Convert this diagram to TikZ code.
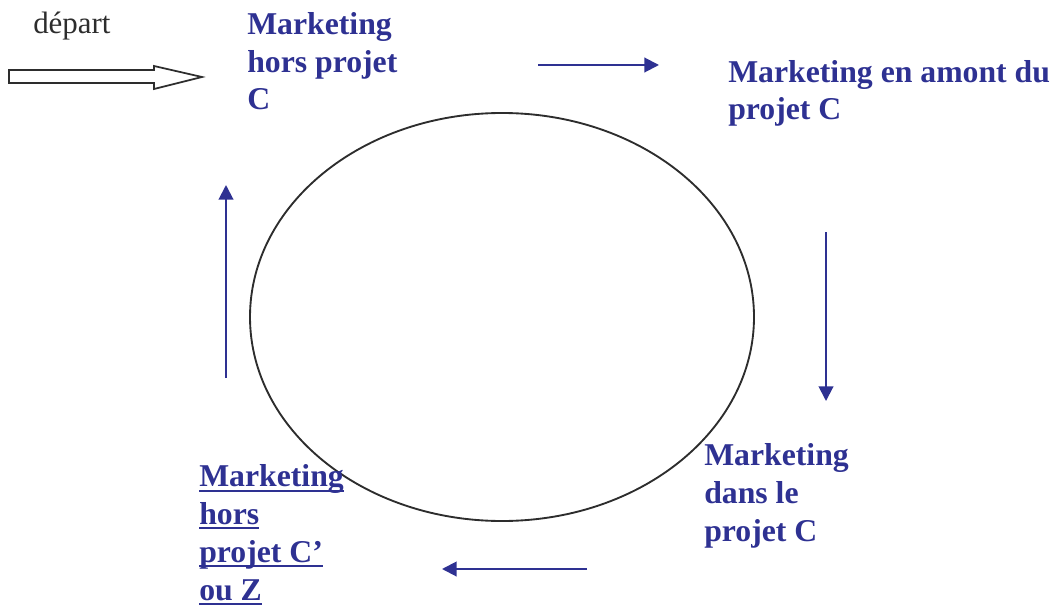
\documentclass[tikz,border=0pt]{standalone}
\usepackage{fontspec}
\setmainfont{Liberation Serif}
\usetikzlibrary{arrows.meta,shapes.geometric}
\definecolor{mblue}{RGB}{46,49,146}
\definecolor{mgray}{RGB}{45,45,45}
\newcommand{\myul}[1]{\setbox0\hbox{#1}\rlap{\rule[-3.9pt]{\wd0}{1.5pt}}\box0}
\tikzset{
  lbl/.style={anchor=base west, inner sep=0pt, align=left, text=mblue,
    font=\fontsize{23.8}{28.4}\selectfont\bfseries},
  flow/.style={draw=mblue, line width=1.5pt, -{Triangle[length=11pt,width=11pt]}},
}
\begin{document}
\begin{tikzpicture}[x=0.75pt,y=-0.75pt]
\useasboundingbox (0,0) rectangle (1055,606);
% start label
\node[anchor=base west, inner sep=0pt, text=mgray, font=\fontsize{23.2}{28}\selectfont] (dep) at (33,34) {départ};
% block arrow
\draw[mgray, line width=1.3pt, line join=miter]
  (9,70) -- (154,70) -- (154,66) -- (202,77) -- (154,89) -- (154,83) -- (9,83) -- cycle;
% ellipse
\node[draw=mgray, line width=1.4pt, ellipse, minimum width=378pt, minimum height=306pt, inner sep=0pt] (cyc) at (502,317) {};
% labels (anchor = baseline of last line)
\node[lbl] (hors) at (247,110) {Marketing\\hors projet\\C};
\node[lbl] (amont) at (728,120) {Marketing en amont du\\projet C};
\node[lbl] (dans) at (704,541) {Marketing\\dans le\\projet C};
\node[lbl] (autre) at (199,600) {\myul{Marketing}\\\myul{hors}\\\myul{projet C’}\\\myul{ou Z}};
% arrows
\coordinate (a1) at (538,65); \coordinate (b1) at (659,65);
\coordinate (a2) at (826,232); \coordinate (b2) at (826,401);
\coordinate (a3) at (587,569); \coordinate (b3) at (442,569);
\coordinate (a4) at (226,378); \coordinate (b4) at (226,185);
\draw[flow] (a1) -- (b1);
\draw[flow] (a2) -- (b2);
\draw[flow] (a3) -- (b3);
\draw[flow] (a4) -- (b4);
\end{tikzpicture}
\end{document}
